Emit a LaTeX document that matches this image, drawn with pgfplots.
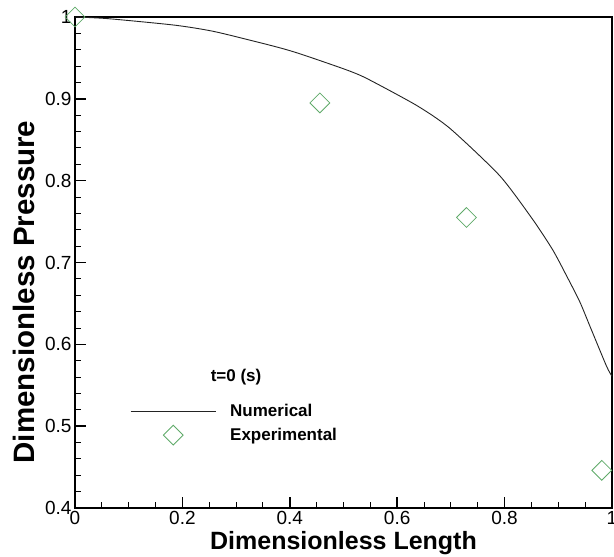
\documentclass[border=0pt]{standalone}
\usepackage{fontspec}
\setmainfont{Liberation Sans}
\usepackage{pgfplots}
\usepackage{pgfplotstable}
\pgfplotsset{compat=1.18}
\usetikzlibrary{calc}

\definecolor{expgreen}{RGB}{95,170,105}
\definecolor{numline}{RGB}{35,35,35}

% numerical solution
\pgfplotstableread{
x      y
0.000  1.000
0.061  0.998
0.186  0.990
0.261  0.982
0.372  0.964
0.419  0.955
0.503  0.936
0.543  0.925
0.636  0.892
0.698  0.864
0.791  0.806
0.853  0.752
0.890  0.715
0.916  0.683
0.940  0.652
0.959  0.622
0.990  0.573
1.000  0.561
}\numtable

% experimental points
\pgfplotstableread{
x      y
0.000  1.000
0.456  0.895
0.729  0.755
0.981  0.446
}\exptable

\begin{document}
\begin{tikzpicture}
\begin{axis}[
  name=ax,
  width=537pt, height=491pt, scale only axis,
  xmin=0, xmax=1, ymin=0.4, ymax=1,
  xtick={0,0.2,0.4,0.6,0.8,1},
  ytick={0.4,0.5,0.6,0.7,0.8,0.9,1},
  minor x tick num=3, minor y tick num=4,
  xtick pos=lower, ytick pos=left,
  tick align=inside,
  major tick length=11pt, minor tick length=6pt,
  every major tick/.append style={black, line width=1.5pt},
  every minor tick/.append style={black, line width=0.9pt},
  axis line style={line width=1.6pt},
  /pgf/number format/assume math mode=true,
  tick label style={font=\fontsize{19}{19}\selectfont},
  xlabel={Dimensionless Length},
  ylabel={Dimensionless Pressure},
  xlabel style={font=\bfseries\fontsize{25}{25}\selectfont,
    at={(axis description cs:0.5,-0.0855)}, anchor=base},
  ylabel style={font=\bfseries\fontsize{29.5}{29.5}\selectfont,
    at={(axis description cs:-0.0745,0.44)}, anchor=base},
  clip=false,
  legend image code/.code={\draw[mark repeat=2,mark phase=2,#1]
    plot coordinates {(0pt,0pt) (42.5pt,0pt) (85pt,0pt)};},
  legend style={draw=none, fill=none,
    at={(axis cs:0.097,0.503)}, anchor=west,
    font=\bfseries\fontsize{17}{17}\selectfont,
    row sep=5pt,
    /tikz/every odd column/.append style={column sep=12pt}},
  legend cell align=left,
]
\addplot[numline, line width=0.9pt, smooth, tension=0.4] table[x=x,y=y] {\numtable};
\addlegendentry{Numerical}
\addplot[only marks, mark=square, mark size=7pt,
  mark options={rotate=45, draw=expgreen, line width=0.8pt}]
  table[x=x,y=y] {\exptable};
\addlegendentry{Experimental}
\node[font=\bfseries\fontsize{17}{17}\selectfont, anchor=base]
  at (axis cs:0.300,0.554) {t=0 (s)};
\end{axis}
\pgfresetboundingbox
\path ($(ax.south west)+(-75pt,-49pt)$) rectangle ($(ax.north east)+(2pt,17pt)$);
\end{tikzpicture}
\end{document}
